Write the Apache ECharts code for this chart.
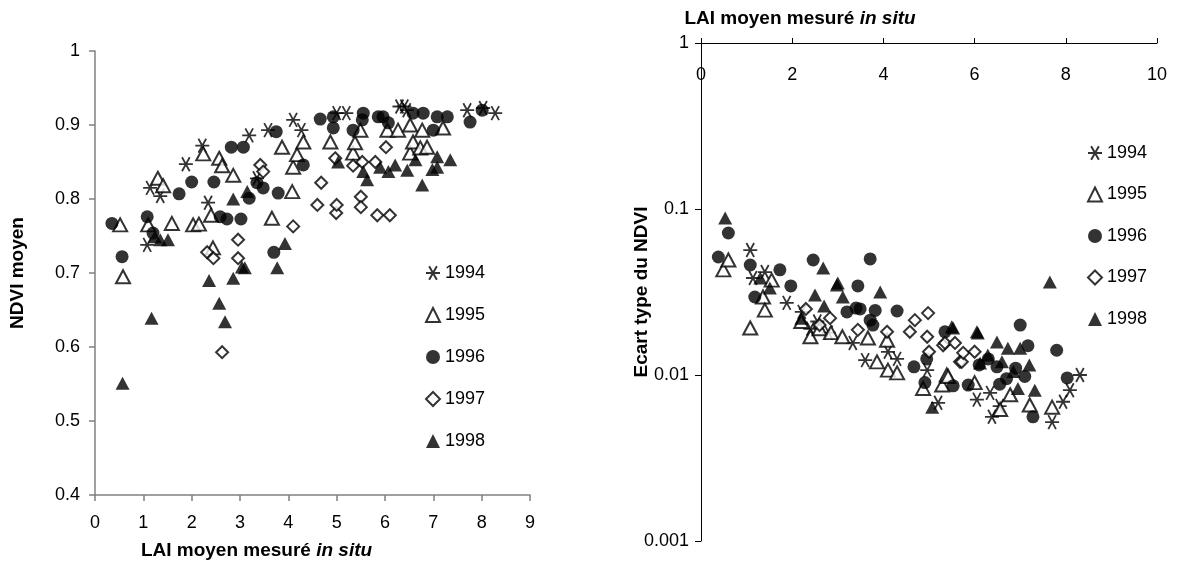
<!DOCTYPE html>
<html><head><meta charset="utf-8">
<script src="https://cdn.jsdelivr.net/npm/echarts@6/dist/echarts.min.js"></script>
<style>html,body{margin:0;padding:0;background:#fff}#c{width:1179px;height:585px}</style>
</head><body><div id="c"></div>
<script>
const years = ['1994','1995','1996','1997','1998'];
const rightYTicks = ['0.001','0.01','0.1','1'];

// Left chart: NDVI moyen vs LAI
const ndvi1994 = [[1.08,0.738],[1.14,0.815],[1.35,0.804],[1.88,0.847],[2.22,0.872],[2.34,0.795],[3.19,0.886],[3.35,0.828],[3.58,0.893],[4.1,0.907],[4.27,0.893],[5.0,0.916],[5.2,0.916],[6.3,0.925],[6.4,0.925],[6.45,0.92],[7.7,0.92],[8.03,0.923],[8.28,0.916]];
const ndvi1995 = [[0.52,0.765],[0.58,0.695],[1.1,0.765],[1.3,0.828],[1.41,0.818],[1.59,0.767],[2.03,0.765],[2.15,0.766],[2.24,0.861],[2.4,0.778],[2.44,0.734],[2.57,0.855],[2.63,0.845],[2.86,0.832],[3.66,0.774],[3.87,0.87],[4.08,0.81],[4.1,0.843],[4.18,0.86],[4.31,0.877],[4.87,0.877],[5.34,0.862],[5.38,0.876],[5.49,0.893],[6.05,0.893],[6.27,0.893],[6.52,0.9],[6.52,0.862],[6.58,0.877],[6.73,0.869],[6.77,0.893],[6.87,0.87],[7.2,0.896]];
const ndvi1996 = [[0.35,0.767],[0.56,0.722],[1.08,0.776],[1.2,0.754],[1.74,0.807],[2.0,0.823],[2.46,0.823],[2.59,0.776],[2.73,0.773],[2.82,0.87],[3.02,0.773],[3.07,0.87],[3.19,0.801],[3.35,0.822],[3.48,0.815],[3.7,0.728],[3.75,0.891],[3.79,0.808],[4.31,0.846],[4.66,0.908],[4.93,0.911],[4.93,0.896],[5.34,0.893],[5.53,0.907],[5.55,0.916],[5.86,0.911],[5.96,0.911],[6.07,0.903],[6.58,0.916],[6.79,0.916],[7.0,0.893],[7.08,0.911],[7.29,0.911],[7.76,0.904],[8.01,0.92]];
const ndvi1997 = [[2.32,0.728],[2.45,0.72],[2.63,0.593],[2.96,0.745],[2.96,0.72],[3.42,0.846],[3.48,0.837],[4.1,0.763],[4.6,0.792],[4.68,0.822],[4.97,0.855],[4.99,0.781],[5.0,0.792],[5.34,0.845],[5.5,0.803],[5.5,0.789],[5.53,0.85],[5.8,0.85],[5.84,0.778],[6.02,0.87],[6.1,0.778]];
const ndvi1998 = [[0.57,0.551],[1.17,0.639],[1.24,0.749],[1.35,0.745],[1.51,0.745],[2.36,0.69],[2.57,0.659],[2.69,0.634],[2.86,0.693],[2.86,0.8],[3.04,0.708],[3.1,0.707],[3.15,0.81],[3.77,0.707],[3.93,0.74],[5.03,0.85],[5.55,0.837],[5.63,0.826],[5.9,0.843],[6.07,0.837],[6.21,0.846],[6.46,0.839],[6.63,0.853],[6.77,0.819],[6.98,0.84],[7.08,0.857],[7.08,0.843],[7.35,0.853]];

// Right chart: Ecart type du NDVI vs LAI
const sd1994 = [[1.08,0.0566],[1.14,0.0384],[1.4,0.0417],[1.88,0.0272],[2.21,0.024],[2.4,0.019],[2.55,0.021],[2.8,0.018],[3.33,0.0156],[3.6,0.0123],[4.1,0.0138],[4.3,0.0125],[4.96,0.0107],[5.2,0.0068],[6.05,0.0071],[6.34,0.0078],[6.38,0.0056],[6.55,0.0065],[7.7,0.0052],[7.94,0.0069],[8.09,0.0081],[8.31,0.01]];
const sd1995 = [[0.49,0.043],[0.6,0.0493],[1.08,0.0192],[1.36,0.0295],[1.4,0.0246],[1.55,0.0373],[2.2,0.021],[2.4,0.017],[2.6,0.019],[2.85,0.018],[3.1,0.017],[3.66,0.0167],[3.86,0.012],[4.08,0.0162],[4.1,0.0107],[4.3,0.0103],[4.87,0.0083],[5.29,0.0087],[5.39,0.01],[5.42,0.0098],[6.0,0.009],[6.56,0.0062],[6.78,0.0076],[7.21,0.0066],[7.7,0.0064]];
const sd1996 = [[0.38,0.0514],[0.6,0.0717],[1.08,0.046],[1.18,0.0295],[1.73,0.043],[1.97,0.0344],[2.46,0.0493],[3.2,0.024],[3.4,0.0253],[3.44,0.0344],[3.49,0.025],[3.71,0.05],[3.71,0.0214],[3.77,0.02],[3.82,0.0245],[4.3,0.0243],[4.67,0.0112],[4.91,0.009],[4.95,0.0125],[5.35,0.0182],[5.53,0.0086],[5.86,0.0087],[6.1,0.0115],[6.3,0.0125],[6.49,0.0112],[6.55,0.0088],[6.7,0.0095],[6.9,0.011],[7.0,0.02],[7.1,0.0098],[7.17,0.015],[7.28,0.0056],[7.8,0.0141],[8.03,0.0096]];
const sd1997 = [[2.3,0.025],[2.6,0.02],[2.83,0.022],[3.44,0.0187],[4.08,0.0182],[4.58,0.0182],[4.69,0.0214],[4.96,0.017],[4.98,0.0236],[5.0,0.0138],[5.31,0.0151],[5.35,0.0156],[5.57,0.0156],[5.68,0.012],[5.72,0.012],[5.75,0.0136],[6.0,0.0138]];
const sd1998 = [[0.53,0.0883],[1.3,0.0384],[1.51,0.0334],[2.2,0.022],[2.5,0.0303],[2.68,0.0441],[2.7,0.026],[2.98,0.0349],[3.0,0.0358],[3.11,0.0295],[3.93,0.0316],[5.07,0.0064],[5.5,0.0195],[5.53,0.0192],[6.05,0.0182],[6.07,0.0179],[6.12,0.0118],[6.29,0.0132],[6.49,0.0158],[6.6,0.012],[6.73,0.0145],[6.85,0.0105],[6.95,0.0083],[7.0,0.0145],[7.2,0.0115],[7.32,0.0081],[7.65,0.0363]];

const leftData = [ndvi1994, ndvi1995, ndvi1996, ndvi1997, ndvi1998];
const rightData = [sd1994, sd1995, sd1996, sd1997, sd1998];

const ASTER = 'path://M-1,0L1,0M-0.55,-0.95L0.55,0.95M-0.55,0.95L0.55,-0.95';
const styles = [
  {symbol: ASTER, symbolSize: 14, itemStyle: {color: 'rgba(0,0,0,0)', borderColor: '#000', borderWidth: 1.8}},
  {symbol: 'triangle', symbolSize: [14, 13], itemStyle: {color: '#fff', borderColor: '#000', borderWidth: 2}},
  {symbol: 'circle', symbolSize: 13, itemStyle: {color: '#000', borderColor: '#000', borderWidth: 0}},
  {symbol: 'diamond', symbolSize: 12, itemStyle: {color: '#fff', borderColor: '#000', borderWidth: 2}},
  {symbol: 'triangle', symbolSize: [14, 13], itemStyle: {color: '#000', borderColor: '#000', borderWidth: 0}}
];

const FONT = 'Liberation Sans, Arial, sans-serif';
const series = [];
years.forEach((y, i) => {
  series.push(Object.assign({type: 'scatter', name: y, xAxisIndex: 0, yAxisIndex: 0, data: leftData[i], silent: true, animation: false}, styles[i]));
});
years.forEach((y, i) => {
  series.push(Object.assign({type: 'scatter', name: y, xAxisIndex: 1, yAxisIndex: 1, data: rightData[i], silent: true, animation: false}, styles[i]));
});

const labelStyle = {color: '#000', fontSize: 18, fontFamily: FONT};
const legendText = {color: '#000', fontSize: 18, fontFamily: FONT};
function nameStyle(pad) {
  return {color: '#000', fontSize: 19, fontWeight: 'bold', fontFamily: FONT, padding: pad,
    rich: {i: {fontStyle: 'italic', fontWeight: 'bold', fontSize: 19, fontFamily: FONT, color: '#000'}}};
}

const option = {
  backgroundColor: '#fff',
  animation: false,
  textStyle: {fontFamily: FONT},
  grid: [
    {left: 95, top: 51, width: 435, height: 444, containLabel: false},
    {left: 701, top: 43, width: 456, height: 498, containLabel: false}
  ],
  legend: [
    {orient: 'vertical', left: 420, top: 259, itemWidth: 14, itemHeight: 14, itemGap: 24,
      data: years, textStyle: legendText, selectedMode: false},
    {orient: 'vertical', left: 1082, top: 139, itemWidth: 14, itemHeight: 14, itemGap: 23.5,
      data: years, textStyle: legendText, selectedMode: false}
  ],
  xAxis: [
    {type: 'value', gridIndex: 0, min: 0, max: 9, interval: 1,
      name: 'LAI moyen mesuré {i|in situ}', nameLocation: 'middle', nameGap: 46, nameMoveOverlap: false,
      nameTextStyle: nameStyle([0, 112, 0, 0]),
      axisLine: {show: true, lineStyle: {color: '#808080', width: 1.5}},
      axisTick: {show: true, length: 6, lineStyle: {color: '#808080', width: 1.5}},
      axisLabel: Object.assign({margin: 19, formatter: v => String(v)}, labelStyle),
      splitLine: {show: false}},
    {type: 'value', gridIndex: 1, min: 0, max: 10, interval: 2, position: 'top',
      name: 'LAI moyen mesuré {i|in situ}', nameLocation: 'middle', nameGap: 15, nameMoveOverlap: false,
      nameTextStyle: nameStyle([0, 258, 0, 0]),
      axisLine: {show: true, onZero: false, lineStyle: {color: '#000', width: 1}},
      axisTick: {show: true, length: 5, lineStyle: {color: '#000', width: 1}},
      axisLabel: Object.assign({inside: true, margin: 23}, labelStyle),
      splitLine: {show: false}}
  ],
  yAxis: [
    {type: 'value', gridIndex: 0, min: 0.4, max: 1, interval: 0.1,
      name: 'NDVI moyen', nameLocation: 'middle', nameGap: 68, nameMoveOverlap: false,
      nameTextStyle: nameStyle([0, 0, 0, 0]),
      axisLine: {show: true, lineStyle: {color: '#808080', width: 1.5}},
      axisTick: {show: true, length: 6, lineStyle: {color: '#808080', width: 1.5}},
      axisLabel: Object.assign({margin: 15, formatter: v => (Math.abs(v - 1) < 1e-9 ? '1' : v.toFixed(1))}, labelStyle),
      splitLine: {show: false}},
    {type: 'log', gridIndex: 1, logBase: 10, min: 0.001, max: 1,
      name: 'Ecart type du NDVI', nameLocation: 'middle', nameGap: 50, nameMoveOverlap: false,
      nameTextStyle: nameStyle([0, 0, 0, 0]),
      axisLine: {show: true, lineStyle: {color: '#000', width: 1}},
      axisTick: {show: true, length: 6, lineStyle: {color: '#000', width: 1}},
      minorTick: {show: false},
      axisLabel: Object.assign({margin: 12, formatter: v => {
        const e = Math.round(Math.log10(v));
        return rightYTicks[e + 3];
      }}, labelStyle),
      splitLine: {show: false}}
  ],
  series: series
};

const chart = echarts.init(document.getElementById('c'), null, {renderer: 'canvas'});
chart.setOption(option);
</script>
</body></html>
